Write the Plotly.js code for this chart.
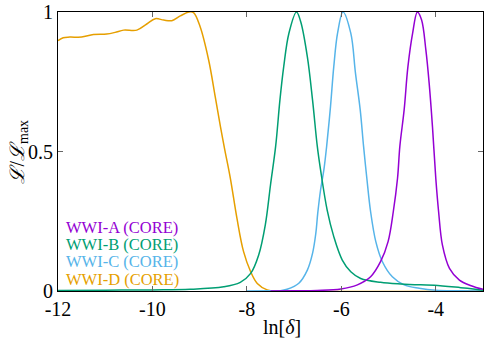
<!DOCTYPE html>
<html>
<head>
<meta charset="utf-8">
<script src="https://cdn.plot.ly/plotly-3.0.1.min.js"></script>
<style>
  html, body { margin: 0; padding: 0; background: #fff; }
  #chart { width: 500px; height: 350px; }
</style>
</head>
<body>
<div id="chart"></div>
<script>
// series names, top to bottom in the key
var names = ['WWI-A (CORE)', 'WWI-B (CORE)', 'WWI-C (CORE)', 'WWI-D (CORE)'];
var colors = ['#9400d3', '#009e73', '#56b4e9', '#e69f00'];

// WWI-A
var xA = [-7.5, -7, -6.51, -6.01, -5.66, -5.38, -5.17, -5.01, -4.90, -4.81, -4.76, -4.67, -4.59, -4.49, -4.39,
          -4.30, -4.21, -4.14, -4.07, -4.00, -3.94, -3.86, -3.71, -3.50, -3.25, -3.0];
var yA = [0, 0.001, 0.002, 0.007, 0.022, 0.051, 0.105, 0.177, 0.284, 0.404, 0.52, 0.649, 0.804, 0.924, 1.0,
          0.971, 0.864, 0.744, 0.589, 0.404, 0.284, 0.165, 0.081, 0.039, 0.019, 0.006];

// WWI-B
var xB = [-12, -11, -10, -9.2, -8.49, -8.14, -7.92, -7.75, -7.61, -7.50, -7.39, -7.30, -7.22, -7.11, -6.95,
          -6.86, -6.72, -6.61, -6.51, -6.44, -6.30, -6.16, -5.98, -5.80, -5.59, -5.17, -4.74, -4.32, -4.03, -3.47, -3.04, -3];
var yB = [0.002, 0.003, 0.004, 0.006, 0.015, 0.031, 0.063, 0.129, 0.237, 0.38, 0.52, 0.685, 0.804, 0.924, 1.0,
          0.965, 0.84, 0.685, 0.52, 0.434, 0.29, 0.195, 0.111, 0.069, 0.045, 0.031, 0.025, 0.022, 0.021, 0.012, 0.004, 0.003];

// WWI-C
var xC = [-8, -7.5, -7.29, -7.15, -6.90, -6.72, -6.61, -6.54, -6.50, -6.44, -6.37, -6.31, -6.23, -6.16, -6.08, -5.965,
          -5.80, -5.70, -5.60, -5.53, -5.46, -5.38, -5.27, -5.13, -4.92, -4.67, -4.35, -4.0, -3.5, -3];
var yC = [0, 0.0005, 0.001, 0.006, 0.028, 0.075, 0.135, 0.207, 0.278, 0.362, 0.434, 0.52, 0.66, 0.804, 0.924, 1.0,
          0.924, 0.78, 0.649, 0.52, 0.404, 0.284, 0.177, 0.105, 0.051, 0.022, 0.01, 0.003, 0.001, 0];

// WWI-D
var xD = [-12, -11.89, -11.75, -11.50, -11.25, -10.97, -10.79, -10.61, -10.33, -10.12, -9.94, -9.76, -9.59, -9.41,
          -9.23, -9.13, -8.99, -8.81, -8.67, -8.56, -8.47, -8.35, -8.21, -8.07, -7.92, -7.78, -7.57, -7.3, -3];
var yD = [0.897, 0.908, 0.91, 0.91, 0.919, 0.921, 0.927, 0.935, 0.935, 0.957, 0.976, 0.971, 0.969, 0.986,
          1.0, 0.998, 0.947, 0.828, 0.696, 0.589, 0.508, 0.404, 0.26, 0.141, 0.069, 0.027, 0.004, 0, 0];

var xTicks = [-12, -10, -8, -6, -4];
var xTickText = ['-12', '-10', '-8', '-6', '-4'];
var yTicks = [0, 0.5, 1];
var yTickText = ['0', '0.5', '1'];

var xs = [xA, xB, xC, xD];
var ys = [yA, yB, yC, yD];

var font = 'Liberation Serif';

// draw D first so the peaks sit on top like the original
var data = [];
for (var i = 3; i >= 0; i--) {
    data.push({
        x: xs[i],
        y: ys[i],
        name: names[i],
        type: 'scatter',
        mode: 'lines',
        line: {color: colors[i], width: 1.5, shape: 'spline', smoothing: 1},
        showlegend: false
    });
}

// key: coloured text only, bottom left
var annotations = [];
for (var i = 0; i < names.length; i++) {
    annotations.push({
        text: names[i],
        xref: 'paper', yref: 'paper',
        x: 0.014, y: 0.043 + (3 - i) * 0.061,
        xanchor: 'left', yanchor: 'middle',
        showarrow: false,
        font: {family: font, size: 16.5, color: colors[i]}
    });
}
annotations.push({
    text: 'ln[<i>δ</i>]',
    xref: 'paper', yref: 'paper',
    x: 0.527, y: -0.13, xanchor: 'center', yanchor: 'middle',
    showarrow: false,
    font: {family: font, size: 20, color: '#000'}
});
annotations.push({
    text: '<i>ℒ</i>/<i>ℒ</i><sub>max</sub>',
    xref: 'paper', yref: 'paper',
    x: -0.094, y: 0.5, xanchor: 'center', yanchor: 'middle',
    textangle: -90,
    showarrow: false,
    font: {family: font, size: 20, color: '#000'}
});

var layout = {
    width: 500,
    height: 350,
    margin: {l: 58, r: 17, t: 12, b: 59},
    paper_bgcolor: '#fff',
    plot_bgcolor: '#fff',
    font: {family: font, size: 20, color: '#000'},
    xaxis: {
        range: [-12, -3],
        tickvals: xTicks,
        ticktext: xTickText,
        ticks: 'inside',
        ticklen: 5,
        tickcolor: '#666',
        showline: true,
        linecolor: '#000',
        linewidth: 1,
        mirror: 'allticks',
        showgrid: false,
        zeroline: false
    },
    yaxis: {
        range: [0, 1],
        tickvals: yTicks,
        ticktext: yTickText,
        ticks: 'inside',
        ticklen: 5,
        tickcolor: '#666',
        showline: true,
        linecolor: '#000',
        linewidth: 1,
        mirror: 'allticks',
        showgrid: false,
        zeroline: false
    },
    annotations: annotations,
    showlegend: false
};

Plotly.newPlot('chart', data, layout, {staticPlot: true});
</script>
</body>
</html>
